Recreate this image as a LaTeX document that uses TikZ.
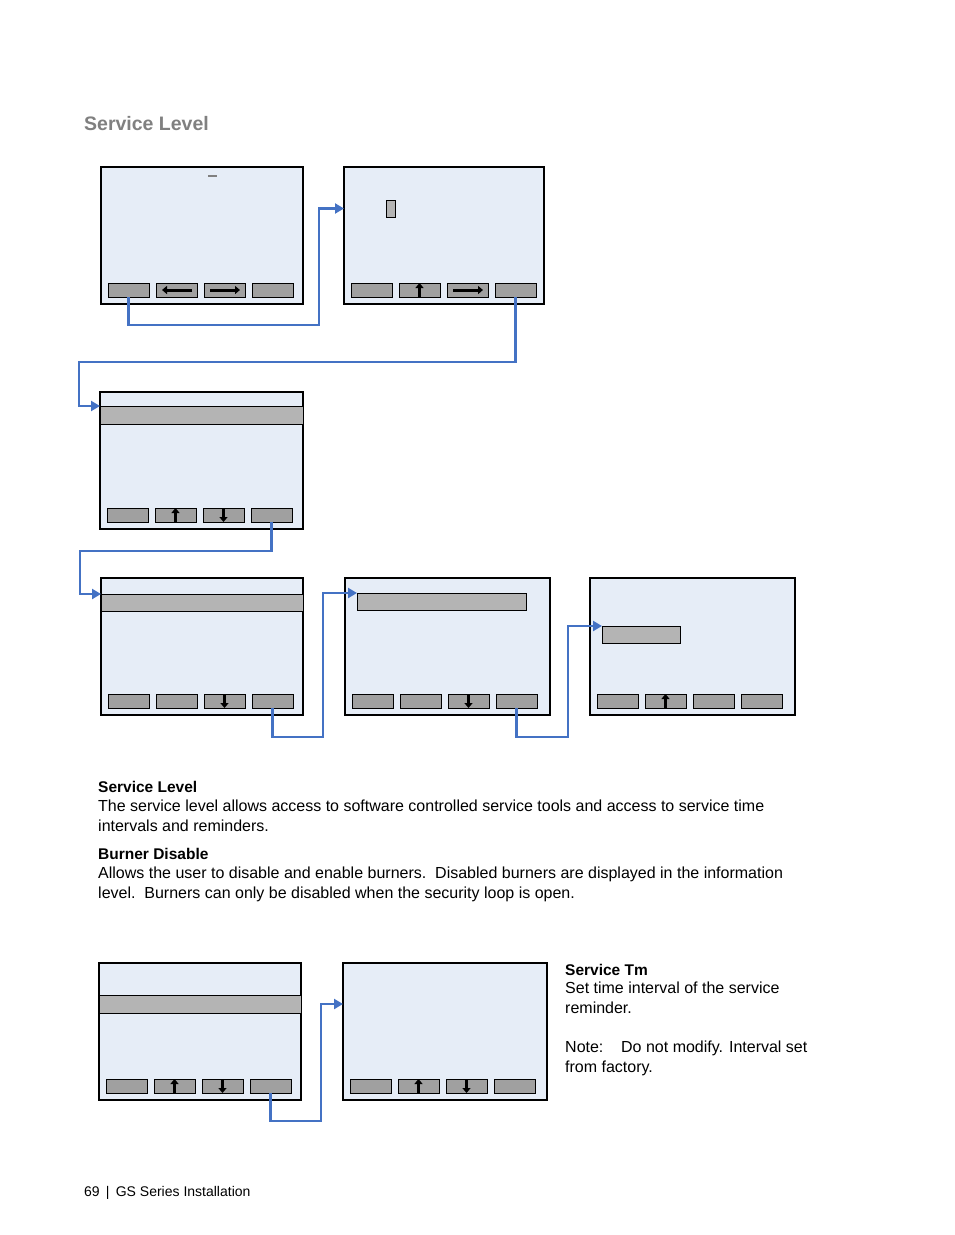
\documentclass[tikz,border=0pt]{standalone}
\usepackage{fontspec}
\setmainfont{Liberation Sans}
\usepackage{xcolor}
\usetikzlibrary{arrows.meta,calc}

\definecolor{lcd}{HTML}{E6EDF7}
\definecolor{btngray}{HTML}{A0A0A0}
\definecolor{bargray}{HTML}{B4B4B4}
\definecolor{linkblue}{HTML}{4472C4}
\definecolor{titlegray}{HTML}{808080}

\tikzset{
	screen/.style={draw, line width=1.1pt, fill=lcd, minimum height=137, inner sep=0pt, outer sep=0pt, anchor=north west},
	btn/.style={draw, line width=1pt, fill=btngray, minimum width=41, minimum height=14, inner sep=0pt, outer sep=0pt},
	bar/.style={draw, line width=1pt, fill=bargray, inner sep=0pt, outer sep=0pt, anchor=north west},
	link/.style={draw=linkblue, line width=2.3pt, -{Triangle[length=9pt,width=10pt]}},
	key/.style={line width=3pt, -{Triangle[length=5pt,width=8pt]}},
	txt/.style={anchor=base west, inner sep=0pt, align=left, font=\fontsize{16}{20}\selectfont},
	head/.style={txt, font=\fontsize{15.5}{20}\selectfont\bfseries},
}

\begin{document}
\begin{tikzpicture}[x=1pt, y=-1pt]
	\useasboundingbox (0,0) rectangle (954,1235);
	\node[anchor=base west, inner sep=0pt, text=titlegray, font=\fontsize{19.5}{24}\selectfont\bfseries] (title) at (84,130) {Service Level};

	% screens with their four keys
	\foreach \s/\x/\y/\w in {s1/101/167/202, s2/344/167/200, s3/100/392/203, s4/101/578/202,
		s5/345/578/205, s6/590/578/205, s7/99/963/202, s8/343/963/204} {
		\node[screen, minimum width=\w] (\s) at (\x,\y) {};
		\foreach \i in {1,...,4}
			\node[btn] (\s-\i) at ([shift={(27.5+48*\i-48,-14)}]\s.south west) {};
	}

	% selection bars
	\node[bar, minimum width=9, minimum height=17] (s2cur) at ([shift={(42,33)}]s2.north west) {};
	\node[bar, minimum width=203, minimum height=18] (s3bar) at ([shift={(0,14)}]s3.north west) {};
	\node[bar, minimum width=202, minimum height=17] (s4bar) at ([shift={(0,16)}]s4.north west) {};
	\node[bar, minimum width=169, minimum height=17] (s5bar) at ([shift={(12,15)}]s5.north west) {};
	\node[bar, minimum width=78, minimum height=17] (s6bar) at ([shift={(12,48)}]s6.north west) {};
	\node[bar, minimum width=202, minimum height=18] (s7bar) at ([shift={(0,32)}]s7.north west) {};
	\draw[titlegray, line width=1.5pt] ([shift={(107,9)}]s1.north west) -- ++(9,0);

	% key arrows
	\draw[key] ($(s1-2.east)+(-5,0)$) -- ($(s1-2.west)+(6,0)$);
	\draw[key] ($(s1-3.west)+(6,0)$) -- ($(s1-3.east)+(-5,0)$);
	\draw[key] (s2-2.south) -- (s2-2.north);
	\draw[key] ($(s2-3.west)+(6,0)$) -- ($(s2-3.east)+(-5,0)$);
	\draw[key] (s3-2.south) -- (s3-2.north);
	\draw[key] (s3-3.north) -- (s3-3.south);
	\draw[key] (s4-3.north) -- (s4-3.south);
	\draw[key] (s5-3.north) -- (s5-3.south);
	\draw[key] (s6-2.south) -- (s6-2.north);
	\draw[key] (s7-2.south) -- (s7-2.north);
	\draw[key] (s7-3.north) -- (s7-3.south);
	\draw[key] (s8-2.south) -- (s8-2.north);
	\draw[key] (s8-3.north) -- (s8-3.south);

	% links
	\draw[link] (s1-1.south) -- ++(0,28) -| ($(s2.west |- s2cur)+(-25,0)$) -- (s2.west |- s2cur);
	\draw[link] (s2-4.south) -- ++(0,65) -| ($(s3.west |- s3bar.north)+(-21,0)$) -- (s3.west |- s3bar.north);
	\draw[link] (s3-4.south) -- ++(0,29) -| ($(s4.west |- s4bar.north)+(-21,0)$) -- (s4.west |- s4bar.north);
	\draw[link] (s4-4.south) -- ++(0,29) -| ($(s5bar.north west)+(-34,0)$) -- (s5bar.north west);
	\draw[link] (s5-4.south) -- ++(0,29) -| ($(s6bar.north west)+(-34,0)$) -- (s6bar.north west);
	\draw[link] (s7-4.south) -- ++(0,28) -| ($(s8.west |- s7bar)+(-22,0)$) -- (s8.west |- s7bar);

	% text
	\node[head] (h1) at (98,792) {Service Level};
	\node[txt] (t1) at (98,831) {The service level allows access to software controlled service tools and access to service time\\intervals and reminders.};
	\node[head] (h2) at (98,859) {Burner Disable};
	\node[txt] (t2) at (98,898) {Allows the user to disable and enable burners.\ \ Disabled burners are displayed in the information\\level.\ \ Burners can only be disabled when the security loop is open.};
	\node[head] (h3) at (565,975) {Service Tm};
	\node[txt] (t3) at (565,1072) {Set time interval of the service\\reminder.\\[19pt]\makebox[56pt][l]{Note:}Do not modify. Interval set\\from factory.};
	\node[anchor=base west, inner sep=0pt, font=\fontsize{14}{16}\selectfont] (foot) at (84,1196) {69\ \,|\ \,GS Series Installation};
\end{tikzpicture}
\end{document}
